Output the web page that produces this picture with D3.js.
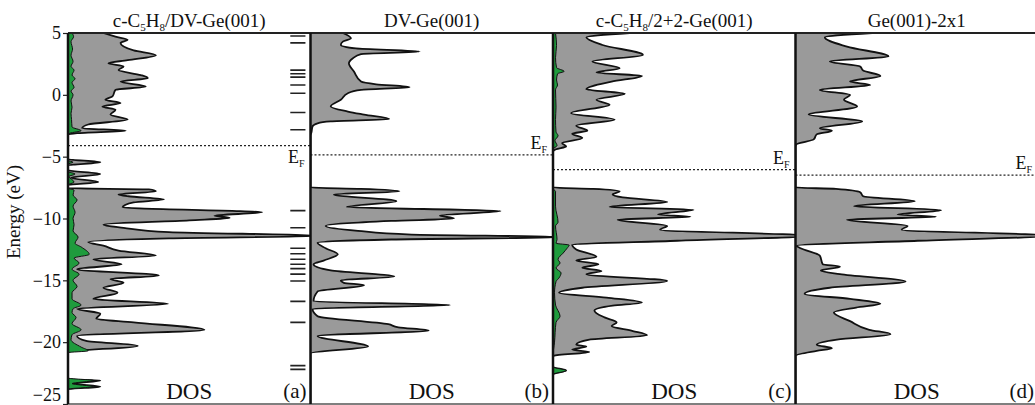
<!DOCTYPE html>
<html>
<head>
<meta charset="utf-8">
<script src="https://cdn.jsdelivr.net/npm/d3@7"></script>
<style>
  body { margin: 0; background: #fff; }
  svg { display: block; font-family: "Liberation Serif", "Times New Roman", serif; }
</style>
</head>
<body>
<svg id="chart"></svg>
<script>
// energy axis ticks (eV)
const energyTicks = [5, 0, -5, -10, -15, -20, -25];
const panelLetters = ['(a)', '(b)', '(c)', '(d)'];
const fermiLevels = [-4.1, -4.85, -6.05, -6.5];

// total DOS, [energy, dos] (arbitrary units)
const dosA = [[5.0, 3.5], [4.7, 4.7], [4.45, 5.9], [4.2, 5.2], [3.6, 6.5], [3.2, 8.7], [2.8, 5.9], [2.55, 4.0],
  [2.3, 5.5], [2.0, 5.0], [1.6, 7.2], [1.35, 7.9], [1.07, 5.2], [0.67, 7.7], [0.4, 4.7], [-0.13, 4.4],
  [-0.4, 3.7], [-0.67, 5.2], [-0.94, 3.4], [-1.2, 4.7], [-1.6, 4.2], [-2.0, 5.9], [-2.4, 2.0], [-2.7, 1.4],
  [-2.9, 5.7], [-3.1, 0.9], [-3.25, 0], [-5.2, 0], [-5.45, 3.2], [-5.7, 0], [-6.1, 0], [-6.4, 3.2], [-6.7, 0.3],
  [-7.05, 3.0], [-7.3, 0], [-7.55, 0], [-7.65, 8.0], [-7.8, 8.7], [-8.05, 5.0], [-8.2, 6.0], [-8.45, 9.5],
  [-8.7, 6.5], [-9.1, 5.4], [-9.5, 19.2], [-9.77, 14.5], [-9.95, 16.0], [-10.15, 12.0], [-10.5, 3.5],
  [-10.75, 5.5], [-11.1, 10.0], [-11.4, 25.0], [-11.6, 10.0], [-11.9, 2.0], [-12.2, 3.5], [-12.6, 5.0],
  [-13.0, 8.7], [-13.3, 2.5], [-13.7, 5.3], [-14.1, 0.9], [-14.6, 9.0], [-14.9, 4.2], [-15.2, 5.5],
  [-15.6, 3.5], [-16.0, 4.9], [-16.5, 2.5], [-16.9, 9.9], [-17.3, 0.9], [-17.7, 3.2], [-18.1, 2.8],
  [-18.4, 6.5], [-19.0, 13.5], [-19.5, 0.9], [-19.9, 1.8], [-20.3, 6.9], [-20.8, 0], [-23.0, 0],
  [-23.1, 3.2], [-23.35, 0.5], [-23.6, 3.2], [-23.8, 0], [-25, 0]];

const dosB = [[5.0, 3.2], [4.57, 4.0], [4.3, 3.2], [4.03, 3.0], [3.75, 4.5], [3.5, 10.8], [3.3, 5.0],
  [2.96, 4.2], [2.55, 3.8], [1.88, 4.3], [1.07, 5.0], [0.85, 6.5], [0.62, 9.8], [0.4, 5.0], [0.13, 3.7],
  [-0.4, 3.0], [-0.94, 2.0], [-1.35, 3.7], [-1.6, 5.3], [-1.96, 7.8], [-2.15, 2.0], [-2.3, 0.7],
  [-2.55, 0.2], [-3.0, 0.1], [-3.3, 0], [-7.5, 0], [-7.6, 5.0], [-7.8, 8.8], [-8.06, 2.3], [-8.6, 8.5],
  [-9.06, 3.6], [-9.4, 18.8], [-9.76, 12.8], [-10.0, 14.2], [-10.2, 8.0], [-10.6, 1.5], [-11.0, 4.7],
  [-11.3, 10.0], [-11.5, 25.0], [-11.7, 8.0], [-11.96, 0.7], [-12.4, 1.5], [-12.9, 2.7], [-13.4, 1.3],
  [-13.7, 0.3], [-14.2, 2.0], [-14.7, 8.3], [-15.0, 3.0], [-15.2, 3.3], [-15.4, 5.3], [-15.9, 0.7],
  [-16.7, 0.3], [-17.0, 13.8], [-17.3, 0.2], [-17.9, 0.7], [-18.55, 7.7], [-18.8, 8.7], [-19.06, 11.7],
  [-19.5, 0.7], [-20.35, 5.7], [-20.9, 0], [-25, 0]];

const dosC = [[5.0, 7.6], [4.65, 3.3], [4.03, 4.9], [3.23, 8.9], [2.7, 3.9], [2.15, 6.6], [1.8, 4.3],
  [1.53, 8.8], [1.07, 5.8], [0.46, 3.3], [0.08, 7.1], [-0.4, 4.3], [-0.8, 5.6], [-1.48, 1.8], [-2.0, 6.1],
  [-2.5, 2.3], [-2.9, 3.4], [-3.15, 1.9], [-3.5, 2.9], [-3.9, 0.9], [-4.17, 1.3], [-4.4, 0.3], [-4.6, 0],
  [-7.5, 0], [-7.6, 4.0], [-7.8, 6.6], [-8.06, 5.9], [-8.3, 6.9], [-8.67, 11.3], [-9.06, 5.6], [-9.3, 13.9],
  [-9.68, 10.4], [-9.86, 13.6], [-10.1, 6.4], [-10.6, 11.3], [-10.9, 10.6], [-11.4, 25.0], [-11.8, 12.3],
  [-12.1, 1.9], [-12.5, 2.3], [-13.1, 4.3], [-13.4, 2.3], [-13.7, 4.5], [-13.98, 2.9], [-14.25, 4.8],
  [-14.5, 3.3], [-15.05, 11.3], [-15.6, 2.9], [-16.0, 0.6], [-16.4, 5.3], [-16.8, 8.8], [-17.05, 5.9],
  [-17.45, 4.1], [-18.0, 5.1], [-18.4, 6.3], [-18.7, 5.8], [-19.1, 7.9], [-19.45, 9.3], [-19.8, 3.6],
  [-20.2, 2.3], [-20.35, 3.3], [-20.6, 1.9], [-20.8, 3.6], [-21.1, 0.1], [-21.2, 0], [-22.0, 0],
  [-22.3, 1.3], [-22.6, 0], [-25, 0]];

const dosD = [[5.0, 7.6], [4.65, 2.9], [3.9, 5.1], [3.1, 9.2], [2.7, 3.4], [2.3, 6.4], [1.96, 6.7],
  [1.53, 8.4], [1.07, 5.4], [0.8, 7.4], [0.4, 2.4], [0.0, 5.4], [-0.4, 4.8], [-0.94, 6.1], [-1.6, 1.3],
  [-2.15, 6.6], [-2.7, 2.4], [-2.9, 3.6], [-3.2, 2.1], [-3.6, 1.8], [-4.0, 0.1], [-4.2, 0], [-7.5, 0],
  [-7.6, 4.0], [-7.88, 6.4], [-8.2, 6.7], [-8.6, 11.8], [-9.0, 5.8], [-9.33, 14.4], [-9.68, 10.1],
  [-9.86, 13.9], [-10.1, 5.1], [-10.6, 11.1], [-10.9, 10.5], [-11.4, 25.0], [-11.8, 12.1], [-12.2, 0.1],
  [-12.4, 0.5], [-13.0, 2.4], [-13.7, 2.7], [-13.9, 4.4], [-14.2, 2.5], [-14.5, 4.4], [-15.1, 10.9],
  [-15.6, 3.4], [-16.1, 0.9], [-16.5, 5.4], [-16.9, 8.4], [-17.2, 6.0], [-17.6, 3.8], [-18.3, 5.4],
  [-19.0, 7.3], [-19.35, 9.4], [-19.8, 4.1], [-20.2, 2.1], [-20.5, 3.6], [-20.7, 2.1], [-21.1, 0], [-25, 0]];

// projected DOS of the molecule (green)
const pdosA = [[5, 0.4], [4.7, 0.55], [4.3, 0.3], [3.7, 0.45], [3.2, 0.3], [2.7, 0.5], [2.3, 0.3], [2.0, 0.6],
  [1.6, 0.4], [1.3, 0.7], [1.0, 0.4], [0.6, 0.6], [0.3, 0.3], [0, 0.5], [-0.5, 0.3], [-1.0, 0.4],
  [-1.5, 0.3], [-2.0, 0.35], [-2.6, 0.4], [-2.9, 1.3], [-3.1, 0.2], [-3.25, 0], [-5.3, 0], [-5.45, 0.5],
  [-5.6, 0], [-6.2, 0], [-6.4, 0.7], [-6.6, 0.1], [-7.05, 0.6], [-7.3, 0], [-7.55, 0], [-7.7, 0.6],
  [-8.1, 0.5], [-8.5, 0.9], [-9.0, 0.5], [-9.5, 0.7], [-10.0, 0.5], [-10.5, 0.6], [-11.0, 0.5], [-11.5, 1.0],
  [-12.0, 0.7], [-12.3, 1.3], [-12.9, 2.1], [-13.2, 0.6], [-13.6, 1.1], [-14.1, 0.4], [-14.5, 1.1],
  [-15.0, 0.5], [-15.5, 0.9], [-16.0, 0.4], [-16.5, 0.4], [-17.0, 1.3], [-17.3, 0.5], [-17.6, 0.4],
  [-18.0, 0.8], [-18.5, 0.4], [-19.0, 1.3], [-19.4, 0.4], [-19.8, 0.3], [-20.4, 1.3], [-20.7, 2.0],
  [-20.85, 0], [-22.9, 0], [-23.1, 2.5], [-23.35, 0.4], [-23.6, 2.5], [-23.8, 0], [-25, 0]];

const pdosC = [[5, 0.25], [4, 0.35], [3, 0.25], [2.2, 0.35], [1.9, 1.1], [1.7, 0.45], [1.2, 0.35], [0.8, 0.45],
  [0.4, 0.25], [-1, 0.3], [-2, 0.25], [-3, 0.3], [-3.3, 0.5], [-3.7, 0.2], [-4.1, 0.4], [-4.4, 0],
  [-7.6, 0], [-7.8, 0.25], [-9, 0.25], [-10.3, 0.5], [-10.6, 0.25], [-11.7, 0.4], [-12.0, 0.3], [-12.15, 1.6],
  [-12.4, 1.4], [-12.8, 1.0], [-13.3, 0.5], [-13.6, 0.7], [-14.0, 0.3], [-14.4, 0.8], [-14.8, 0.6],
  [-15.1, 0.3], [-16, 0.15], [-17.0, 0.25], [-17.9, 0.7], [-18.4, 0.3], [-20, 0.15], [-21.1, 0],
  [-22.0, 0], [-22.3, 1.3], [-22.6, 0], [-25, 0]];

// molecular levels shown as short dashes in panel (a)
const levelsA = [4.76, 4.2, 2.0, 1.7, 1.43, 0.8, 0.13, -1.43, -2.82, -9.36, -10.75, -12.4, -12.85,
  -13.3, -13.7, -14.05, -14.5, -15.05, -16.7, -18.4, -21.9, -22.2];

const panels = [
  { dos: dosA, pdos: pdosA, title: [['c-C', 0], ['5', 1], ['H', 0], ['8', 1], ['/DV-Ge(001)', 0]], efBelow: true },
  { dos: dosB, pdos: null, title: [['DV-Ge(001)', 0]] },
  { dos: dosC, pdos: pdosC, title: [['c-C', 0], ['5', 1], ['H', 0], ['8', 1], ['/2+2-Ge(001)', 0]] },
  { dos: dosD, pdos: null, title: [['Ge(001)-2x1', 0]] }
];

const width = 1035;
const height = 405;
const marginLeft = 68;
const plotTop = 33;
const plotBottom = 404;
const panelW = 242.5;

const svg = d3.select('#chart')
  .attr('width', width)
  .attr('height', height);

const y = d3.scaleLinear()
  .domain([5, -25])
  .range([plotTop, plotBottom]);

// y axis on the left
const yAxis = svg.append('g')
  .attr('transform', 'translate(' + marginLeft + ',0)')
  .call(d3.axisLeft(y).tickValues(energyTicks).tickSize(5).tickPadding(2));
yAxis.select('.domain').remove();
yAxis.selectAll('line').attr('stroke', '#222').attr('stroke-width', 1.2);
yAxis.selectAll('text')
  .attr('fill', '#111')
  .attr('dy', d => d === -25 ? '-0.2em' : '0.32em')
  .style('font-family', '"Liberation Serif", serif')
  .style('font-size', '18px');

svg.append('text')
  .attr('transform', 'translate(20,212) rotate(-90)')
  .attr('text-anchor', 'middle')
  .style('font-size', '19px')
  .attr('fill', '#111')
  .text('Energy (eV)');

const defs = svg.append('defs');

panels.forEach((p, i) => {
  const x0 = marginLeft + i * panelW;
  const x = d3.scaleLinear().domain([0, 24]).range([x0, x0 + panelW]);

  defs.append('clipPath').attr('id', 'clip' + i)
    .append('rect')
    .attr('x', x0).attr('y', plotTop)
    .attr('width', panelW).attr('height', plotBottom - plotTop);

  const g = svg.append('g').attr('clip-path', 'url(#clip' + i + ')');

  const area = d3.area()
    .y(d => y(d[0]))
    .x0(x(0))
    .x1(d => x(d[1]))
    .curve(d3.curveMonotoneY);

  const line = d3.line()
    .y(d => y(d[0]))
    .x(d => x(d[1]))
    .curve(d3.curveMonotoneY);

  g.append('path')
    .datum(p.dos)
    .attr('d', area)
    .attr('fill', '#9a9a9a');

  g.append('path')
    .datum(p.dos)
    .attr('d', line)
    .attr('fill', 'none')
    .attr('stroke', '#111')
    .attr('stroke-width', 1.8);

  if (p.pdos) {
    g.append('path')
      .datum(p.pdos)
      .attr('d', area)
      .attr('fill', '#1f9b3d')
      .attr('stroke', '#111')
      .attr('stroke-width', 1);
  }

  if (i === 0) {
    g.selectAll('.level')
      .data(levelsA)
      .enter().append('line')
      .attr('class', 'level')
      .attr('x1', x(22.0)).attr('x2', x(23.5))
      .attr('y1', d => y(d)).attr('y2', d => y(d))
      .attr('stroke', '#222')
      .attr('stroke-width', 1.6);
  }

  // Fermi level
  const ef = y(fermiLevels[i]);
  g.append('line')
    .attr('x1', x0).attr('x2', x0 + panelW)
    .attr('y1', ef).attr('y2', ef)
    .attr('stroke', '#222')
    .attr('stroke-width', 1.3)
    .attr('stroke-dasharray', '2,2');

  const efLabel = svg.append('text')
    .attr('x', Math.min(x0 + panelW - 6, width - 3))
    .attr('y', p.efBelow ? ef + 17 : ef - 6)
    .attr('text-anchor', 'end')
    .attr('fill', '#111')
    .style('font-size', '18px');
  efLabel.append('tspan').text('E');
  efLabel.append('tspan').attr('dy', 4).style('font-size', '10px').text('F');

  // panel title
  const t = svg.append('text')
    .attr('x', x0 + panelW / 2)
    .attr('y', 27)
    .attr('text-anchor', 'middle')
    .attr('fill', '#111')
    .style('font-size', '19px');
  let shifted = false;
  p.title.forEach(([s, sub]) => {
    const ts = t.append('tspan').text(s);
    if (sub && !shifted) { ts.attr('dy', 4).style('font-size', '11px'); shifted = true; }
    else if (sub) { ts.style('font-size', '11px'); }
    else if (shifted) { ts.attr('dy', -4); shifted = false; }
  });

  svg.append('text')
    .attr('x', x0 + panelW / 2)
    .attr('y', 399)
    .attr('text-anchor', 'middle')
    .attr('fill', '#111')
    .style('font-size', '23px')
    .text('DOS');

  svg.append('text')
    .attr('x', Math.min(x0 + panelW - 4, width - 1))
    .attr('y', 398)
    .attr('text-anchor', 'end')
    .attr('fill', '#111')
    .style('font-size', '21px')
    .text(panelLetters[i]);
});

// frame: top/bottom borders and panel separators
svg.append('line')
  .attr('x1', marginLeft).attr('x2', width)
  .attr('y1', plotTop).attr('y2', plotTop)
  .attr('stroke', '#222').attr('stroke-width', 2);
svg.append('line')
  .attr('x1', marginLeft).attr('x2', width)
  .attr('y1', plotBottom).attr('y2', plotBottom)
  .attr('stroke', '#555').attr('stroke-width', 1.5);
svg.selectAll('.sep')
  .data(d3.range(4))
  .enter().append('line')
  .attr('class', 'sep')
  .attr('x1', i => marginLeft + i * panelW).attr('x2', i => marginLeft + i * panelW)
  .attr('y1', plotTop).attr('y2', plotBottom)
  .attr('stroke', '#111')
  .attr('stroke-width', 2.5);
</script>
</body>
</html>
